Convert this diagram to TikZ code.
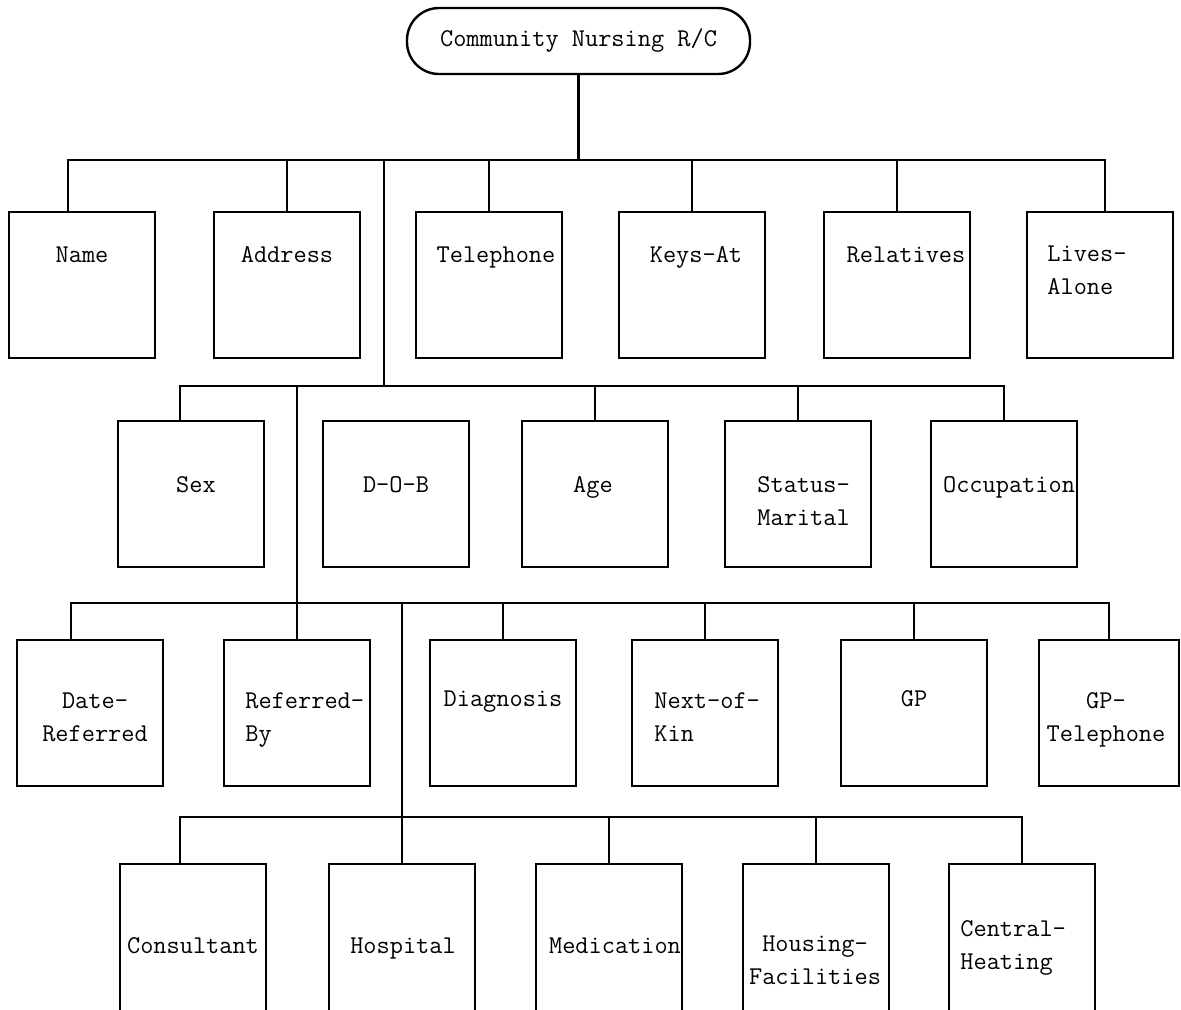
\documentclass[tikz,border=0pt]{standalone}

\tikzset{
  field/.style={draw, line width=1.2pt, minimum width=73pt, minimum height=73pt, inner sep=0pt},
  cutfield/.style={field, minimum height=76pt},
  lbl/.style={font=\ttfamily\fontsize{12.8}{16.5}\selectfont, inner sep=0pt, anchor=base},
  lbll/.style={lbl, anchor=base west, align=left},
  lblc/.style={lbl, align=center},
  wire/.style={line width=1.2pt},
}

\begin{document}
\begin{tikzpicture}[x=0.5pt, y=-0.5pt]
\useasboundingbox (0,0) rectangle (1181,1009);
\clip (0,0) rectangle (1181,1009);

\node[draw, line width=1.2pt, rounded corners=16pt, minimum width=171.5pt, minimum height=33pt,
      font=\ttfamily\fontsize{12.8}{16.5}\selectfont] (rc) at (578.5,41) {Community Nursing R/C};

% personal details
\node[field] (name) at (82,285) {};
\node[field] (address) at (287,285) {};
\node[field] (telephone) at (489,285) {};
\node[field] (keys) at (692,285) {};
\node[field] (relatives) at (897,285) {};
\node[field] (lives) at (1100,285) {};
\node[lbl] (name-t) at (82,262) {Name};
\node[lbl] (address-t) at (287,262) {Address};
\node[lbl] (telephone-t) at (496,262) {Telephone};
\node[lbl] (keys-t) at (696,262) {Keys-At};
\node[lbl] (relatives-t) at (906,262) {Relatives};
\node[lbll] (lives-t) at (1047,294) {Lives-\\Alone};

\node[field] (sex) at (191,494) {};
\node[field] (dob) at (396,494) {};
\node[field] (age) at (595,494) {};
\node[field] (status) at (798,494) {};
\node[field] (occ) at (1004,494) {};
\node[lbl] (sex-t) at (196,492) {Sex};
\node[lbl] (dob-t) at (396,492) {D-O-B};
\node[lbl] (age-t) at (593,492) {Age};
\node[lbll] (status-t) at (757,525) {Status-\\Marital};
\node[lbl] (occ-t) at (1009,492) {Occupation};

% referral
\node[field] (date) at (90,713) {};
\node[field] (refby) at (297,713) {};
\node[field] (diag) at (503,713) {};
\node[field] (kin) at (705,713) {};
\node[field] (gp) at (914,713) {};
\node[field, minimum width=70pt] (gptel) at (1109,713) {};
\node[lblc] (date-t) at (95,741) {Date-\\Referred};
\node[lbll] (refby-t) at (245,741) {Referred-\\By};
\node[lbl] (diag-t) at (503,706) {Diagnosis};
\node[lbll] (kin-t) at (654,741) {Next-of-\\Kin};
\node[lbl] (gp-t) at (914,706) {GP};
\node[lblc] (gptel-t) at (1106,741) {GP-\\Telephone};

% care and home
\node[cutfield] (cons) at (193,940) {};
\node[cutfield] (hosp) at (402,940) {};
\node[cutfield] (med) at (609,940) {};
\node[cutfield] (housing) at (816,940) {};
\node[cutfield] (central) at (1022,940) {};
\node[lbl] (cons-t) at (193,953) {Consultant};
\node[lbl] (hosp-t) at (403,953) {Hospital};
\node[lbl] (med-t) at (615,953) {Medication};
\node[lblc] (housing-t) at (815,984) {Housing-\\Facilities};
\node[lbll] (central-t) at (960,969) {Central-\\Heating};

% buses
\coordinate (bus1) at (0,160);
\coordinate (bus2) at (0,386);
\coordinate (bus3) at (0,603);
\coordinate (bus4) at (0,817);
\coordinate (t1) at (384,160);
\coordinate (name-in) at ([xshift=-7pt]name.north);
\coordinate (lives-in) at ([xshift=2.5pt]lives.north);
\coordinate (sex-in) at ([xshift=-5.5pt]sex.north);
\coordinate (date-in) at ([xshift=-9.5pt]date.north);
\coordinate (cons-in) at ([xshift=-6.5pt]cons.north);

\draw[wire] (rc.south) -- (rc.south |- bus1);
\draw[wire] (name-in) |- (lives-in |- bus1) -- (lives-in);
\foreach \n in {address,telephone,keys,relatives}
  \draw[wire] (\n.north) -- (\n.north |- bus1);
\draw[wire] (t1) -- (t1 |- bus2);

\draw[wire] (sex-in) |- (occ.north |- bus2) -- (occ.north);
\foreach \n in {age,status}
  \draw[wire] (\n.north) -- (\n.north |- bus2);
\draw[wire] (refby.north |- bus2) -- (refby.north);

\draw[wire] (date-in) |- (gptel.north |- bus3) -- (gptel.north);
\foreach \n in {diag,kin,gp}
  \draw[wire] (\n.north) -- (\n.north |- bus3);
\draw[wire] (hosp.north |- bus3) -- (hosp.north);

\draw[wire] (cons-in) |- (central.north |- bus4) -- (central.north);
\foreach \n in {med,housing}
  \draw[wire] (\n.north) -- (\n.north |- bus4);
\end{tikzpicture}
\end{document}
